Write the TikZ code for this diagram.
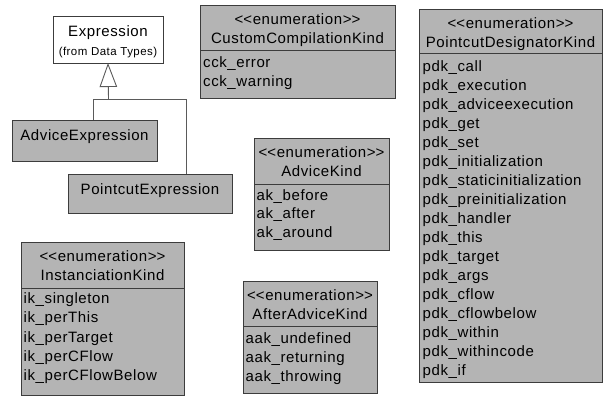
\documentclass[tikz,border=0pt]{standalone}
\usepackage{fontspec}
\setmainfont{Liberation Sans}[LetterSpace=4]
\usepackage{xcolor}
\usetikzlibrary{arrows.meta,positioning,calc}
\definecolor{PG}{HTML}{B4B4B4}
\definecolor{PL}{HTML}{3C3C3C}
\definecolor{PC}{HTML}{5A5A5A}
\newcommand{\stereo}[1]{<\kern0pt<#1>\kern0pt>}

\begin{document}
\begin{tikzpicture}[x=1pt, y=-1pt,
    font=\fontsize{15}{19}\selectfont,
    enumbox/.style={draw=PL, fill=PG, line width=0.9pt,
      anchor=north west, inner sep=0pt, outer sep=0pt},
    classbox/.style={draw=PL, fill=PG, line width=0.9pt,
      anchor=north west, inner sep=0pt, outer sep=0pt},
    divline/.style={draw=PL, line width=0.9pt},
    hdr/.style={anchor=base, inner sep=0pt},
    item/.style={anchor=base west, inner sep=0pt},
    gen/.style={draw=PC, line width=0.9pt}]
  \useasboundingbox (0,0) rectangle (603,397);

  % superclass and its two subclasses
  \node[classbox, fill=white, minimum width=110pt, minimum height=47pt]
    (expr) at (53,16) {};
  \node[hdr] (exprname) at ([yshift=-20pt]expr.north) {Expression};
  \node[hdr, font=\fontsize{11.5}{13}\selectfont]
    (exprpkg) at ([yshift=-39pt]expr.north) {(from Data Types)};

  \node[classbox, minimum width=145pt, minimum height=41pt]
    (ae) at (12,120) {};
  \node[hdr] (aename) at ([yshift=-20pt]ae.north) {AdviceExpression};

  \node[classbox, minimum width=164pt, minimum height=39pt]
    (pe) at (68,174) {};
  \node[hdr] (pename) at ([yshift=-20pt]pe.north) {PointcutExpression};

  % generalization
  \coordinate (fork) at (108.5,99);
  \coordinate (forkL) at (93,99);
  \coordinate (forkR) at (186,99);
  \draw[gen, -{Triangle[open, length=24pt, width=17.5pt]}]
    (fork) -- (expr.south);
  \draw[gen] (ae.north -| forkL) |- (forkR) -- (forkR |- pe.north);

  % CustomCompilationKind
  \node[enumbox, minimum width=195pt, minimum height=93pt]
    (cck) at (200,5) {};
  \draw[divline] ([yshift=-45pt]cck.north west) -- ([yshift=-45pt]cck.north east);
  \node[hdr] (cckst) at ([yshift=-19.5pt]cck.north) {\stereo{enumeration}};
  \node[hdr] (cckname) at ([yshift=-38.5pt]cck.north) {CustomCompilationKind};
  \foreach \lbl [count=\i from 0] in {cck\_error, cck\_warning}
    \node[item] (cck-\i) at ([shift={(3pt,{-62pt-19*\i pt})}]cck.north west) {\lbl};

  % PointcutDesignatorKind
  \node[enumbox, minimum width=183pt, minimum height=373pt]
    (pdk) at (419,9) {};
  \draw[divline] ([yshift=-44.5pt]pdk.north west) -- ([yshift=-44.5pt]pdk.north east);
  \node[hdr] (pdkst) at ([yshift=-19.5pt]pdk.north) {\stereo{enumeration}};
  \node[hdr] (pdkname) at ([yshift=-38.5pt]pdk.north) {PointcutDesignatorKind};
  \foreach \lbl [count=\i from 0] in {pdk\_call, pdk\_execution,
      pdk\_adviceexecution, pdk\_get, pdk\_set, pdk\_initialization,
      pdk\_staticinitialization, pdk\_preinitialization, pdk\_handler,
      pdk\_this, pdk\_target, pdk\_args, pdk\_cflow, pdk\_cflowbelow,
      pdk\_within, pdk\_withincode, pdk\_if}
    \node[item] (pdk-\i) at ([shift={(3.5pt,{-62pt-19.05*\i pt})}]pdk.north west) {\lbl};

  % AdviceKind
  \node[enumbox, minimum width=135pt, minimum height=112pt]
    (ak) at (254,138) {};
  \draw[divline] ([yshift=-46pt]ak.north west) -- ([yshift=-46pt]ak.north east);
  \node[hdr] (akst) at ([yshift=-19.5pt]ak.north) {\stereo{enumeration}};
  \node[hdr] (akname) at ([yshift=-38.5pt]ak.north) {AdviceKind};
  \foreach \lbl [count=\i from 0] in {ak\_before, ak\_after, ak\_around}
    \node[item] (ak-\i) at ([shift={(2.5pt,{-62pt-18.5*\i pt})}]ak.north west) {\lbl};

  % InstanciationKind
  \node[enumbox, minimum width=163pt, minimum height=153pt]
    (ik) at (21,242) {};
  \draw[divline] ([yshift=-46pt]ik.north west) -- ([yshift=-46pt]ik.north east);
  \node[hdr] (ikst) at ([yshift=-19.5pt]ik.north) {\stereo{enumeration}};
  \node[hdr] (ikname) at ([yshift=-38.5pt]ik.north) {InstanciationKind};
  \foreach \lbl [count=\i from 0] in {ik\_singleton, ik\_perThis,
      ik\_perTarget, ik\_perCFlow, ik\_perCFlowBelow}
    \node[item] (ik-\i) at ([shift={(2.5pt,{-61.5pt-19.25*\i pt})}]ik.north west) {\lbl};

  % AfterAdviceKind
  \node[enumbox, minimum width=134pt, minimum height=112pt]
    (aak) at (243,281) {};
  \draw[divline] ([yshift=-45pt]aak.north west) -- ([yshift=-45pt]aak.north east);
  \node[hdr] (aakst) at ([yshift=-19.5pt]aak.north) {\stereo{enumeration}};
  \node[hdr] (aakname) at ([yshift=-38.5pt]aak.north) {AfterAdviceKind};
  \foreach \lbl [count=\i from 0] in {aak\_undefined, aak\_returning, aak\_throwing}
    \node[item] (aak-\i) at ([shift={(2.5pt,{-62pt-19*\i pt})}]aak.north west) {\lbl};
\end{tikzpicture}
\end{document}
